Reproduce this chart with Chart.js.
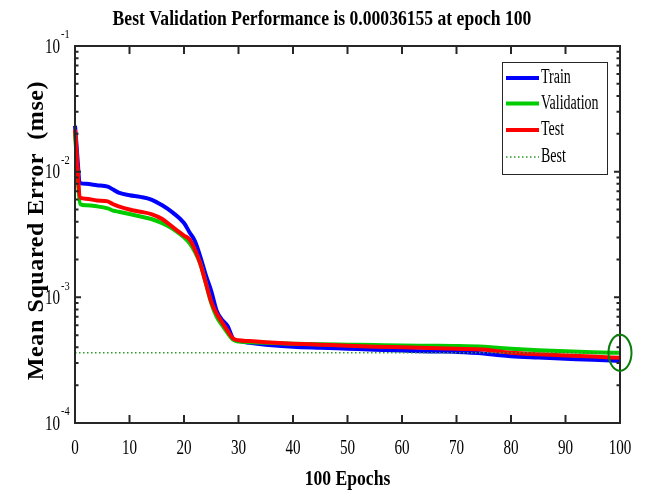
<!DOCTYPE html>
<html>
<head>
<meta charset="utf-8">
<script src="https://cdn.jsdelivr.net/npm/chart.js@4.4.1/dist/chart.umd.min.js"></script>
<style>
  html, body { margin: 0; padding: 0; background: #fff; }
  canvas { display: block; }
</style>
</head>
<body>
<canvas id="perfChart" width="645" height="491"></canvas>
<script>
// values
const epochs = [0, 1, 2, 4, 6, 7, 8, 10, 12, 14, 16, 18, 20, 21, 22, 23, 24, 25, 26, 27, 28, 29, 30, 32, 35, 40, 45, 50, 55, 60, 65, 70, 75, 78, 80, 85, 90, 95, 100];
const trainMse = [0.0232, 0.0081, 0.0080, 0.0078, 0.0076, 0.0072, 0.0068, 0.0065, 0.0063, 0.0060, 0.0054, 0.0047, 0.0039, 0.0033, 0.0028, 0.0021, 0.0015, 0.00112, 0.00078, 0.00066, 0.00059, 0.00047, 0.00045, 0.000435, 0.00042, 0.000405, 0.000397, 0.00039, 0.000383, 0.000377, 0.000371, 0.000368, 0.000358, 0.000346, 0.00034, 0.000332, 0.000325, 0.000318, 0.000312];
const validationMse = [0.0205, 0.0055, 0.0054, 0.0053, 0.0051, 0.0049, 0.0048, 0.0046, 0.0044, 0.0042, 0.0039, 0.0035, 0.0030, 0.0027, 0.0023, 0.00185, 0.0013, 0.0009, 0.0007, 0.0006, 0.00052, 0.00046, 0.000445, 0.00044, 0.000435, 0.000428, 0.000423, 0.00042, 0.000417, 0.000414, 0.000412, 0.00041, 0.000404, 0.000395, 0.00039, 0.00038, 0.000372, 0.000366, 0.00036155];
const testMse = [0.0216, 0.0062, 0.0061, 0.0059, 0.0058, 0.0055, 0.0053, 0.0050, 0.0048, 0.0046, 0.0042, 0.0036, 0.0031, 0.0029, 0.0024, 0.00185, 0.0013, 0.00092, 0.00074, 0.00063, 0.00054, 0.00047, 0.000455, 0.000449, 0.00044, 0.000428, 0.00042, 0.000412, 0.000405, 0.0004, 0.000395, 0.00039, 0.000384, 0.00037, 0.000362, 0.000352, 0.000345, 0.000338, 0.00033];
const bestEpoch = 100;
const bestMse = 0.00036155;

const xTicks = [0, 10, 20, 30, 40, 50, 60, 70, 80, 90, 100];
const yDecades = [-4, -3, -2, -1];

const toPoints = vals => vals.map((v, i) => ({ x: epochs[i], y: v }));

const AXIS = "#262626";
const SERIF = "'Liberation Serif', 'Times New Roman', serif";

// text squeezed sideways like the original figure
function squeezeText(ctx, text, x, y, font, sx, align, baseline) {
  ctx.save();
  ctx.translate(x, y);
  ctx.scale(sx, 1);
  ctx.font = font;
  ctx.textAlign = align;
  ctx.textBaseline = baseline;
  ctx.fillStyle = "#000";
  ctx.fillText(text, 0, 0);
  ctx.restore();
}

const matlabAxes = {
  id: "matlabAxes",
  afterDatasetsDraw(chart) {
    const { ctx, chartArea: a, scales: { x, y } } = chart;
    ctx.save();

    // box
    ctx.strokeStyle = AXIS;
    ctx.lineWidth = 2;
    ctx.strokeRect(a.left, a.top, a.right - a.left, a.bottom - a.top);

    // x ticks, pointing inwards at top and bottom
    ctx.beginPath();
    xTicks.forEach(t => {
      const px = x.getPixelForValue(t);
      ctx.moveTo(px, a.bottom); ctx.lineTo(px, a.bottom - 8);
      ctx.moveTo(px, a.top); ctx.lineTo(px, a.top + 8);
    });
    ctx.stroke();

    // y ticks, major and minor, left and right
    ctx.beginPath();
    yDecades.forEach(e => {
      const py = y.getPixelForValue(Math.pow(10, e));
      ctx.moveTo(a.left, py); ctx.lineTo(a.left + 6, py);
      ctx.moveTo(a.right, py); ctx.lineTo(a.right - 6, py);
      if (e < -1) {
        for (let m = 2; m <= 9; m++) {
          const pm = y.getPixelForValue(m * Math.pow(10, e));
          ctx.moveTo(a.left, pm); ctx.lineTo(a.left + 3.5, pm);
          ctx.moveTo(a.right, pm); ctx.lineTo(a.right - 3.5, pm);
        }
      }
    });
    ctx.stroke();

    // circle round the best point
    ctx.strokeStyle = "#0b7d0b";
    ctx.lineWidth = 2;
    ctx.beginPath();
    ctx.ellipse(x.getPixelForValue(bestEpoch), y.getPixelForValue(bestMse), 11.5, 18, 0, 0, Math.PI * 2);
    ctx.stroke();
    ctx.restore();
  },
  afterDraw(chart) {
    const { ctx, chartArea: a, scales: { x, y } } = chart;
    const sets = chart.data.datasets;

    squeezeText(ctx, "Best Validation Performance is 0.00036155 at epoch 100", 322, 19,
      "bold 22px " + SERIF, 0.8, "center", "middle");

    xTicks.forEach(t => {
      squeezeText(ctx, String(t), x.getPixelForValue(t), 448, "21px " + SERIF, 0.72, "center", "middle");
    });
    yDecades.forEach(e => {
      const py = y.getPixelForValue(Math.pow(10, e));
      squeezeText(ctx, "10", 60, py + 1, "21px " + SERIF, 0.72, "right", "middle");
      squeezeText(ctx, "-" + Math.abs(e), 61, py - 11, "13px " + SERIF, 0.8, "left", "middle");
    });

    squeezeText(ctx, "100 Epochs", (a.left + a.right) / 2, 479, "bold 22px " + SERIF, 0.8, "center", "middle");

    ctx.save();
    ctx.translate(43, (a.top + a.bottom) / 2 - 4);
    ctx.rotate(-Math.PI / 2);
    ctx.font = "bold 24px " + SERIF;
    if ("letterSpacing" in ctx) ctx.letterSpacing = "0.6px";
    ctx.textAlign = "center";
    ctx.textBaseline = "alphabetic";
    ctx.fillStyle = "#000";
    ctx.fillText("Mean Squared Error  (mse)", 0, 0);
    ctx.restore();

    // legend
    ctx.save();
    ctx.fillStyle = "#fff";
    ctx.fillRect(502, 62, 105, 112);
    ctx.strokeStyle = AXIS;
    ctx.lineWidth = 1;
    ctx.strokeRect(502.5, 62.5, 105, 112);
    const rows = [78, 103.5, 130, 157];
    ["Train", "Validation", "Test", "Best"].forEach((name, i) => {
      const ds = sets.find(d => d.label === name);
      ctx.strokeStyle = ds.borderColor;
      ctx.lineWidth = ds.borderWidth;
      ctx.setLineDash(ds.borderDash || []);
      ctx.beginPath();
      ctx.moveTo(506, rows[i]);
      ctx.lineTo(539, rows[i]);
      ctx.stroke();
      ctx.setLineDash([]);
      squeezeText(ctx, name, 541, rows[i], "20px " + SERIF, 0.7, "left", "middle");
    });
    ctx.restore();
  }
};

new Chart(document.getElementById("perfChart").getContext("2d"), {
  type: "line",
  data: {
    datasets: [
      {
        label: "Best",
        data: [{ x: 0, y: bestMse }, { x: bestEpoch, y: bestMse }],
        borderColor: "#2a9a2a",
        borderWidth: 1.5,
        borderDash: [1.5, 2.5]
      },
      { label: "Test", data: toPoints(testMse), borderColor: "#ff0000", borderWidth: 4 },
      { label: "Validation", data: toPoints(validationMse), borderColor: "#00cc00", borderWidth: 4 },
      { label: "Train", data: toPoints(trainMse), borderColor: "#0000ff", borderWidth: 4 }
    ]
  },
  options: {
    responsive: false,
    animation: false,
    devicePixelRatio: 1,
    layout: { padding: { left: 75, right: 25, top: 46, bottom: 68 } },
    elements: {
      point: { radius: 0 },
      line: { tension: 0, cubicInterpolationMode: "monotone", borderJoinStyle: "round", fill: false }
    },
    datasets: { line: { clip: 4 } },
    scales: {
      x: { type: "linear", min: 0, max: 100, display: false },
      y: { type: "logarithmic", min: 0.0001, max: 0.1, display: false }
    },
    plugins: {
      legend: { display: false },
      title: { display: false },
      tooltip: { enabled: false }
    }
  },
  plugins: [matlabAxes]
});
</script>
</body>
</html>
